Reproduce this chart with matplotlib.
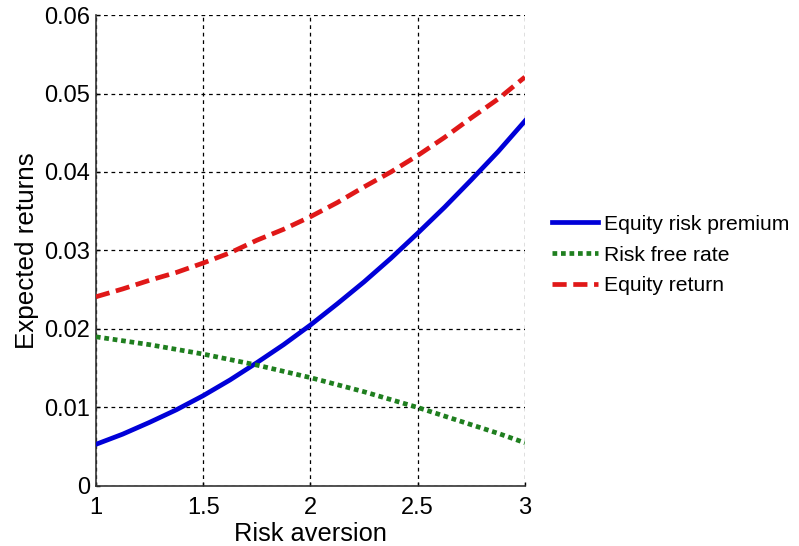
import numpy as np
import matplotlib

matplotlib.use("Agg")
import matplotlib.pyplot as plt

plt.rcParams["font.family"] = ["Liberation Sans", "DejaVu Sans"]

# values
risk_aversion = [1.0, 1.125, 1.25, 1.375, 1.5, 1.625, 1.75, 1.875, 2.0,
                 2.125, 2.25, 2.375, 2.5, 2.625, 2.75, 2.875, 3.0]
equity_premium = [0.0053, 0.0066, 0.0081, 0.0097, 0.0115, 0.0135, 0.0157, 0.0180, 0.0205,
                  0.0232, 0.0260, 0.0290, 0.0322, 0.0355, 0.0390, 0.0426, 0.0465]
risk_free = [0.0190, 0.0185, 0.0180, 0.0174, 0.0168, 0.0161, 0.0154, 0.0146, 0.0138,
             0.0129, 0.0120, 0.0110, 0.0100, 0.0089, 0.0078, 0.0067, 0.0055]
equity_return = [0.0241, 0.0251, 0.0262, 0.0272, 0.0284, 0.0297, 0.0313, 0.0327, 0.0343,
                 0.0361, 0.0381, 0.0400, 0.0421, 0.0444, 0.0469, 0.0493, 0.0521]

x_ticks = [1, 1.5, 2, 2.5, 3]
x_tick_labels = ["1", "1.5", "2", "2.5", "3"]
y_ticks = [0, 0.01, 0.02, 0.03, 0.04, 0.05, 0.06]
y_tick_labels = ["0", "0.01", "0.02", "0.03", "0.04", "0.05", "0.06"]

fig = plt.figure(figsize=(7.99, 5.46), dpi=100)
ax = fig.add_axes([0.120, 0.110, 0.537, 0.8625])

ax.plot(risk_aversion, equity_premium, "-", color="#0000d8", lw=3.4,
        label="Equity risk premium", zorder=3)
ax.plot(risk_aversion, risk_free, linestyle=(0, (1.0, 0.8)), color="#1f7f1f",
        lw=3.4, label="Risk free rate", zorder=3)
ax.plot(risk_aversion, equity_return, linestyle=(0, (3.0, 1.4)), color="#e01818",
        lw=3.4, label="Equity return", zorder=3)

ax.set_xlim(1, 3)
ax.set_ylim(0, 0.06)
ax.set_xticks(x_ticks)
ax.set_xticklabels(x_tick_labels, fontsize=17)
ax.set_yticks(y_ticks)
ax.set_yticklabels(y_tick_labels, fontsize=17)
ax.tick_params(axis="y", direction="in", length=3, width=1.0, pad=4)
ax.tick_params(axis="x", direction="in", length=3, width=1.0, pad=8)

ax.grid(True, color="black", linestyle=(0, (3, 3)), lw=0.9)
ax.spines["top"].set_visible(False)
ax.spines["right"].set_visible(False)
for side in ("left", "bottom"):
    ax.spines[side].set_linewidth(1.2)
    ax.spines[side].set_color("#333333")

ax.set_xlabel("Risk aversion", fontsize=18.3, labelpad=2)
ax.set_ylabel("Expected returns", fontsize=18.7, labelpad=4)

fig.legend(loc="upper left", bbox_to_anchor=(0.680, 0.622), frameon=False,
           fontsize=15.2, handlelength=2.2, handletextpad=0.28, labelspacing=0.56,
           borderaxespad=0)

fig.savefig("out.png", dpi=100)
